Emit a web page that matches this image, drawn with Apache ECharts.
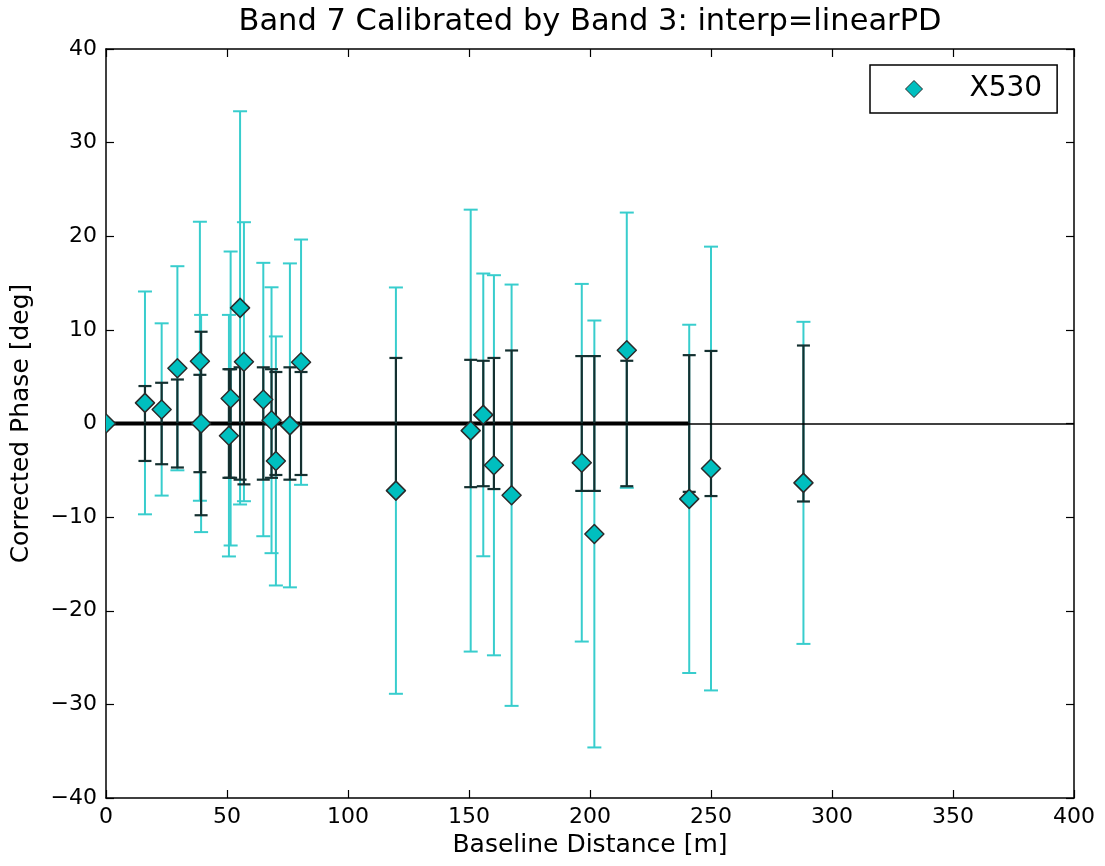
<!DOCTYPE html>
<html><head><meta charset="utf-8">
<script src="https://cdn.jsdelivr.net/npm/echarts@6/dist/echarts.min.js"></script>
<style>html,body{margin:0;padding:0;background:#fff;} #c{width:1105px;height:866px;}</style>
</head><body><div id="c"></div>
<script>
// ---- data ----
const seriesName = 'X530';
const baseline = [0.0, 16.1, 23.0, 29.5, 38.8, 39.3, 50.8, 51.5, 55.4, 57.0, 65.0, 68.4, 70.2, 76.0, 80.6,
                  119.8, 150.7, 155.9, 160.3, 167.6, 196.6, 201.8, 215.2, 241.0, 250.0, 288.2];
const phase    = [0.0, 2.2, 1.5, 5.9, 6.65, 0.0, -1.3, 2.67, 12.35, 6.6, 2.56, 0.35, -4.0, -0.2, 6.55,
                  -7.17, -0.76, 0.92, -4.46, -7.66, -4.19, -11.8, 7.83, -8.05, -4.81, -6.34];
const phaseErr = [0, 11.9, 9.2, 10.9, 14.9, 11.6, 12.9, 15.7, 21.0, 14.9, 14.6, 14.2, 13.3, 17.3, 13.1,
                  21.7, 23.6, 15.1, 20.3, 22.5, 19.1, 22.8, 14.7, 18.6, 23.7, 17.2];
const refErr   = [0, 4.0, 4.35, 4.7, 5.2, 9.8, 5.8, 5.8, 6.0, 6.5, 6.0, 5.8, 5.5, 6.0, 5.5,
                  7.0, 6.8, 6.7, 7.0, 7.8, 7.2, 7.2, 6.7, 7.3, 7.75, 8.33];
const zeroLineX = [0, 241.0];
const xRange = [0, 400, 50];
const yRange = [-40, 40, 10];

// ---- style ----
const FONT = 'DejaVu Sans';
const CYAN = '#00BFBF';
const CYAN_BAR = '#38CDCD';
const DARK_BAR = '#143030';

const cyanData = baseline.map((b, i) => [b, phase[i] - phaseErr[i], phase[i] + phaseErr[i], phaseErr[i]]);
const blackData = baseline.map((b, i) => [b, -refErr[i], refErr[i], refErr[i]]);
const pointData = baseline.map((b, i) => [b, phase[i]]);

function errRender(color, width, capHalf) {
  return function (params, api) {
    if (api.value(3) === 0) return null;
    const x = api.value(0);
    const pHi = api.coord([x, api.value(2)]);
    const pLo = api.coord([x, api.value(1)]);
    const st = { stroke: color, lineWidth: width };
    return {
      type: 'group',
      children: [
        { type: 'line', shape: { x1: pHi[0], y1: pHi[1], x2: pLo[0], y2: pLo[1] }, style: st },
        { type: 'line', shape: { x1: pHi[0] - capHalf, y1: pHi[1], x2: pHi[0] + capHalf, y2: pHi[1] }, style: st },
        { type: 'line', shape: { x1: pLo[0] - capHalf, y1: pLo[1], x2: pLo[0] + capHalf, y2: pLo[1] }, style: st }
      ]
    };
  };
}

function markerRender(params, api) {
  const p = api.coord([api.value(0), api.value(1)]);
  const r = 9.5;
  return {
    type: 'polygon',
    shape: { points: [[p[0], p[1] - r], [p[0] + r, p[1]], [p[0], p[1] + r], [p[0] - r, p[1]]] },
    style: { fill: CYAN, stroke: '#2a2a2a', lineWidth: 1.5, lineJoin: 'round' }
  };
}

const minus = v => String(v).replace('-', '\u2212');
const axisLineStyle = { onZero: false, lineStyle: { color: '#000', width: 1.5 } };
const tickStyle = { inside: true, length: 8, lineStyle: { color: '#000', width: 1.2 } };

const chart = echarts.init(document.getElementById('c'), null, { renderer: 'canvas' });
chart.setOption({
  animation: false,
  backgroundColor: '#fff',
  title: {
    text: 'Band 7 Calibrated by Band 3: interp=linearPD',
    left: 590, textAlign: 'center', top: 7, padding: 0,
    textStyle: { fontFamily: FONT, fontSize: 30.5, fontWeight: 'normal', color: '#000' }
  },
  legend: {
    data: [{ name: seriesName, icon: 'diamond' }],
    left: 870, top: 65,
    itemWidth: 17, itemHeight: 17,
    padding: [9, 15, 9, 35],
    borderColor: '#000', borderWidth: 1.5, borderRadius: 0,
    backgroundColor: '#fff',
    selectedMode: false,
    itemStyle: { color: CYAN, borderColor: '#2a2a2a', borderWidth: 1 },
    textStyle: { fontFamily: FONT, fontSize: 28, color: '#000', padding: [0, 0, 0, 42], lineHeight: 30 }
  },
  grid: { left: 106, right: 31, top: 49, bottom: 68, containLabel: false },
  xAxis: [{
    type: 'value', min: xRange[0], max: xRange[1], interval: xRange[2],
    name: 'Baseline Distance [m]', nameLocation: 'middle', nameGap: 32,
    nameTextStyle: { fontFamily: FONT, fontSize: 25, color: '#000' },
    axisLine: axisLineStyle, axisTick: tickStyle, splitLine: { show: false },
    axisLabel: { fontFamily: FONT, fontSize: 22, color: '#000', margin: 8, formatter: minus }
  }, {
    type: 'value', position: 'top', min: xRange[0], max: xRange[1], interval: xRange[2],
    axisLine: axisLineStyle, axisTick: tickStyle, splitLine: { show: false }, axisLabel: { show: false }
  }],
  yAxis: [{
    type: 'value', min: yRange[0], max: yRange[1], interval: yRange[2],
    name: 'Corrected Phase [deg]', nameLocation: 'middle', nameGap: 72, nameRotate: 90,
    nameTextStyle: { fontFamily: FONT, fontSize: 25, color: '#000' },
    axisLine: axisLineStyle, axisTick: tickStyle, splitLine: { show: false },
    axisLabel: { fontFamily: FONT, fontSize: 22, color: '#000', margin: 9, formatter: minus }
  }, {
    type: 'value', position: 'right', min: yRange[0], max: yRange[1], interval: yRange[2],
    axisLine: axisLineStyle, axisTick: tickStyle, splitLine: { show: false }, axisLabel: { show: false }
  }],
  series: [
    {
      name: seriesName + ' err', type: 'custom', z: 2, clip: true,
      renderItem: errRender(CYAN_BAR, 2, 7), data: cyanData,
      encode: { x: 0, y: [1, 2] },
      markLine: {
        silent: true, symbol: 'none', label: { show: false },
        lineStyle: { color: '#000', width: 1.5, type: 'solid' },
        data: [{ yAxis: 0 }]
      }
    },
    {
      name: 'zero', type: 'line', z: 3, symbol: 'none', silent: true,
      lineStyle: { color: '#000', width: 4 },
      data: zeroLineX.map(x => [x, 0])
    },
    {
      name: 'ref err', type: 'custom', z: 4, clip: true,
      renderItem: errRender(DARK_BAR, 2.2, 6.5), data: blackData,
      encode: { x: 0, y: [1, 2] }
    },
    {
      name: seriesName, type: 'custom', z: 5, clip: true,
      itemStyle: { color: CYAN },
      renderItem: markerRender, data: pointData,
      encode: { x: 0, y: 1 }
    }
  ]
});
</script>
</body></html>
